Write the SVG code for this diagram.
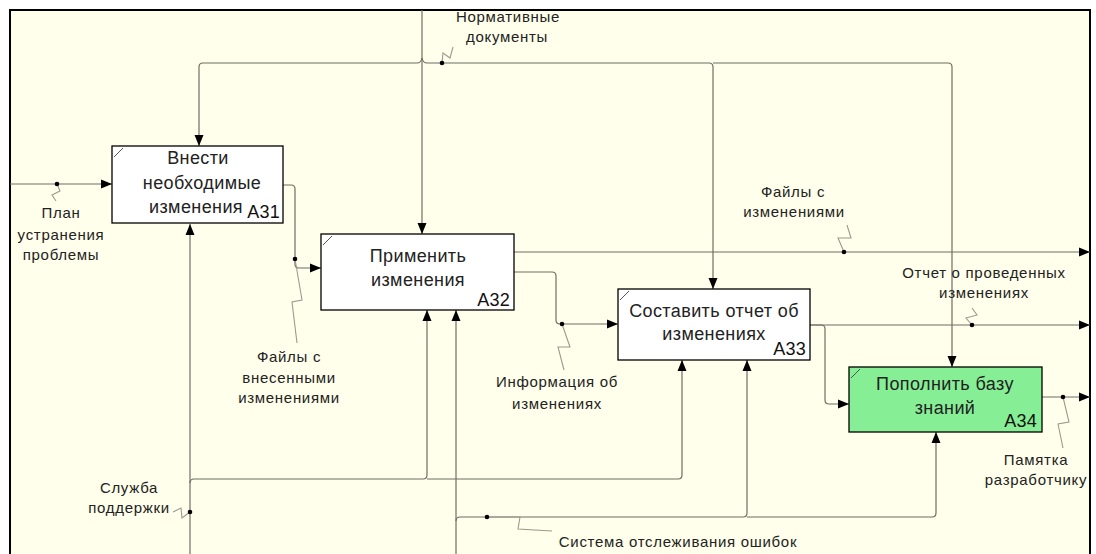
<svg xmlns="http://www.w3.org/2000/svg" width="1096" height="554" viewBox="0 0 1096 554">
<style>
.frame{fill:#FFFFEB;stroke:#000;stroke-width:2}
.box{fill:#fff;stroke:#000;stroke-width:1.3}
.green{fill:#86EE94}
.tick{stroke:#555;stroke-width:1;fill:none}
.bt{font-family:"Liberation Sans",Arial,sans-serif;font-size:18px;fill:#222;letter-spacing:0.4px;text-anchor:middle}
.num{font-family:"Liberation Sans",Arial,sans-serif;font-size:18px;fill:#111;text-anchor:end;letter-spacing:0.2px}
.lb{font-family:"Liberation Sans",Arial,sans-serif;font-size:15px;fill:#222;letter-spacing:0.7px;text-anchor:middle}
.ln{stroke:#6e6e66;stroke-width:1.2;fill:none}
.sq{stroke:#9a9a90;stroke-width:1.1;fill:none}
.dot{fill:#000}
</style>
<defs>
<marker id="ah" markerUnits="userSpaceOnUse" markerWidth="12" markerHeight="10" refX="11" refY="5" orient="auto">
<path d="M0,0.5 L11,5 L0,9.5 Z" fill="#000"/>
</marker>
</defs>
<rect x="0" y="0" width="1096" height="554" fill="#fff"/>
<rect class="frame" x="10" y="10" width="1080" height="600"/>

<g id="connectors">
<path class="ln" d="M422,10 L422,234" marker-end="url(#ah)"/>
<path class="ln" d="M417,63 Q421,63 422,58 M427,63 Q423,63 422,58"/>
<path class="ln" d="M417,63 L203,63 Q199,63 199,67 L199,146" marker-end="url(#ah)"/>
<path class="ln" d="M427,63 L709,63 Q713,63 713,67 L713,289" marker-end="url(#ah)"/>
<path class="ln" d="M713,63 L948,63 Q952,63 952,67 L952,367" marker-end="url(#ah)"/>
<polyline class="sq" points="442,63 443,53 450,58 453,47"/>
<circle class="dot" cx="442" cy="63" r="2.3"/>

<path class="ln" d="M10,184 L112,184" marker-end="url(#ah)"/>
<polyline class="sq" points="57,184 60,191 52,195 56,201"/>
<circle class="dot" cx="57" cy="184" r="2.3"/>

<path class="ln" d="M283,185 L291,185 Q295,185 295,189 L295,264 Q295,268 299,268 L321,268" marker-end="url(#ah)"/>
<polyline class="sq" points="295,259 302,300 292,302 297,343"/>
<circle class="dot" cx="295" cy="259" r="2.3"/>

<path class="ln" d="M514,252 L1090,252" marker-end="url(#ah)"/>
<polyline class="sq" points="847,225 851,238 838,238 844,252"/>
<circle class="dot" cx="844" cy="252" r="2.3"/>

<path class="ln" d="M514,272 L552,272 Q556,272 556,276 L556,320 Q556,324 560,324 L618,324" marker-end="url(#ah)"/>
<polyline class="sq" points="562,324 570,347 558,347 564,370"/>
<circle class="dot" cx="562" cy="324" r="2.3"/>

<path class="ln" d="M810,325 L1090,325" marker-end="url(#ah)"/>
<polyline class="sq" points="972,325 966,318 977,315 972,308"/>
<circle class="dot" cx="972" cy="325" r="2.3"/>

<path class="ln" d="M810,325 L821,325 Q825,325 825,329 L825,400 Q825,404 829,404 L849,404" marker-end="url(#ah)"/>

<path class="ln" d="M1042,397 L1090,397" marker-end="url(#ah)"/>
<polyline class="sq" points="1063,397 1069,422 1058,424 1063,448"/>
<circle class="dot" cx="1063" cy="397" r="2.3"/>

<path class="ln" d="M190,560 L190,224" marker-end="url(#ah)"/>
<path class="ln" d="M190,483 Q190,479 194,479 L423,479 Q427,479 427,475 L427,310" marker-end="url(#ah)"/>
<path class="ln" d="M427,479 L678,479 Q682,479 682,475 L682,360" marker-end="url(#ah)"/>
<polyline class="sq" points="190,512 182,518 181,508 173,512"/>
<circle class="dot" cx="190" cy="512" r="2.3"/>

<path class="ln" d="M456,560 L456,310" marker-end="url(#ah)"/>
<path class="ln" d="M456,521 Q456,517 460,517 L743,517 Q747,517 747,513 L747,360" marker-end="url(#ah)"/>
<path class="ln" d="M747,517 L932,517 Q936,517 936,513 L936,432" marker-end="url(#ah)"/>
<polyline class="sq" points="487,517 520,517 518,529 552,531"/>
<circle class="dot" cx="487" cy="517" r="2.3"/>
</g>

<g id="labels">
<text class="lb" x="508" y="22">Нормативные</text>
<text class="lb" x="507" y="42">документы</text>
<text class="lb" x="61" y="218">План</text>
<text class="lb" x="61" y="240">устранения</text>
<text class="lb" x="61" y="260">проблемы</text>
<text class="lb" x="289" y="362">Файлы с</text>
<text class="lb" x="289" y="383">внесенными</text>
<text class="lb" x="289" y="403">изменениями</text>
<text class="lb" x="793" y="197">Файлы с</text>
<text class="lb" x="794" y="217">изменениями</text>
<text class="lb" x="557" y="387">Информация об</text>
<text class="lb" x="557" y="409">изменениях</text>
<text class="lb" x="984" y="278">Отчет о проведенных</text>
<text class="lb" x="984" y="298">изменениях</text>
<text class="lb" x="1036" y="465">Памятка</text>
<text class="lb" x="1036" y="485">разработчику</text>
<text class="lb" x="129" y="493">Служба</text>
<text class="lb" x="129" y="513">поддержки</text>
<text class="lb" x="678" y="547">Система отслеживания ошибок</text>
</g>

<g id="A31">
<rect class="box" x="112" y="146" width="171" height="77"/>
<path class="tick" d="M114,157 L123,148"/>
<text class="bt" x="198" y="164">Внести</text>
<text class="bt" x="202" y="189">необходимые</text>
<text class="bt" x="196" y="213">изменения</text>
<text class="num" x="280" y="218">A31</text>
</g>

<g id="A32">
<rect class="box" x="321" y="234" width="193" height="76"/>
<path class="tick" d="M323,245 L332,236"/>
<text class="bt" x="418" y="262">Применить</text>
<text class="bt" x="418" y="286">изменения</text>
<text class="num" x="510" y="306">A32</text>
</g>

<g id="A33">
<rect class="box" x="618" y="289" width="192" height="71"/>
<path class="tick" d="M620,300 L629,291"/>
<text class="bt" x="714" y="317">Составить отчет об</text>
<text class="bt" x="714" y="340">изменениях</text>
<text class="num" x="806" y="355">A33</text>
</g>

<g id="A34">
<rect class="box green" x="849" y="367" width="193" height="65"/>
<path class="tick" d="M851,378 L860,369"/>
<text class="bt" x="945" y="390">Пополнить базу</text>
<text class="bt" x="945" y="414">знаний</text>
<text class="num" x="1037" y="427">A34</text>
</g>
</svg>
